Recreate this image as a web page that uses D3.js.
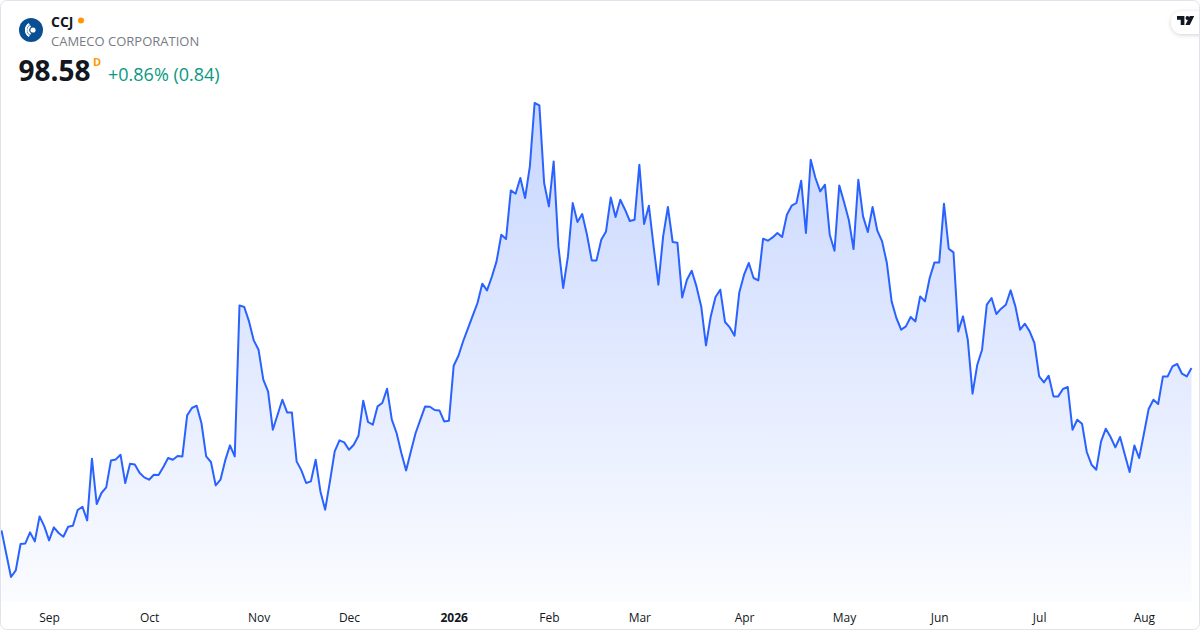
<!DOCTYPE html>
<html>
<head>
<meta charset="utf-8">
<script src="https://cdn.jsdelivr.net/npm/d3@7"></script>
<style>
  html, body { margin: 0; padding: 0; background: #ffffff; }
  #chart { width: 1200px; height: 630px; }
  text { font-family: "Open Sans", "Noto Sans", sans-serif; }
</style>
</head>
<body>
<div id="chart"></div>
<script>
// Header texts
const symbol = "CCJ";
const companyName = "CAMECO CORPORATION";
const lastPrice = "98.58";
const priceChange = "+0.86% (0.84)";

// Trading calendar: first session and NYSE holidays in the range
const firstSession = "2025-08-18";
const holidays = [
  "2025-09-01", "2025-11-27", "2025-12-25", "2026-01-01", "2026-01-19",
  "2026-02-16", "2026-04-03", "2026-05-25", "2026-06-19", "2026-07-03",
];

// Labels shown at the first session of each month
const tickLabels = ["Sep", "Oct", "Nov", "Dec", "2026", "Feb", "Mar", "Apr", "May", "Jun", "Jul", "Aug"];

// Daily closes
const closes = [
  82.34, 80.01, 77.68, 78.34, 80.98, 81.04, 82.14, 81.24, 83.74, 82.74,
  81.34, 82.64, 82.08, 81.71, 82.71, 82.81, 84.38, 84.71, 83.34, 89.51,
  84.98, 86.08, 86.64, 89.34, 89.44, 89.91, 87.08, 89.01, 88.94, 88.11,
  87.64, 87.41,
  87.91, 87.88, 88.68, 89.58, 89.41, 89.78, 89.74, 93.84, 94.58, 94.81,
  93.08, 89.74, 89.18, 86.84, 87.41, 89.34, 90.84, 89.74, 104.84, 104.68,
  103.24, 101.34, 100.41, 97.41, 96.24, 92.41, 93.91, 95.41, 94.14, 94.14,
  89.24,
  88.34, 87.08, 87.24, 89.41, 86.24, 84.41, 87.24, 90.24, 91.34, 91.14,
  90.41, 90.91, 91.81, 95.31, 93.18, 92.91, 94.74, 95.08, 96.51, 93.41,
  92.08, 90.08, 88.34, 90.24, 92.08, 93.41, 94.74, 94.71, 94.38, 94.34,
  93.24, 93.31, 98.81,
  99.81, 101.28, 102.54, 103.81, 105.08, 107.01, 106.34, 107.68, 109.24, 111.91,
  111.48, 116.34, 116.01, 117.58, 115.58, 118.74, 125.08, 124.84, 117.08, 114.74,
  119.24, 110.74, 106.58, 109.74, 115.08, 113.18, 113.98, 111.91, 109.34, 109.34,
  111.41,
  112.24, 115.64, 113.68, 115.41, 114.41, 113.28, 113.41, 118.91, 112.98, 114.81,
  110.74, 106.91, 111.74, 114.68, 111.18, 111.11, 105.64, 107.41, 108.31, 106.74,
  104.74, 100.84, 103.74, 105.68, 106.41, 103.18, 102.64, 101.81, 106.14, 107.91,
  109.08,
  107.58, 107.34, 111.51, 111.31, 111.64, 112.08, 111.68, 113.91, 114.81, 115.08,
  117.31, 112.08, 119.41, 117.58, 116.24, 116.91, 111.91, 110.31, 116.84, 115.18,
  113.41, 110.48, 117.41, 113.74, 112.18, 114.68, 112.31, 111.24, 109.08, 105.24,
  103.58, 102.41,
  102.74, 103.68, 103.24, 105.74, 105.24, 107.58, 109.14, 109.14, 115.01, 110.51,
  110.14, 102.24, 103.74, 101.41, 96.01, 98.91, 100.41, 104.91, 105.58, 103.98,
  104.51, 104.91, 106.34, 104.74, 102.41, 103.01, 102.24, 101.08, 97.74, 97.14,
  97.81,
  95.74, 95.74, 96.48, 96.68, 92.41, 93.41, 93.01, 90.18, 88.91, 88.41,
  91.24, 92.51, 91.68, 90.64, 91.68, 89.91, 88.18, 90.84, 89.58, 92.01,
  94.48, 95.41, 94.98, 97.74, 97.74, 98.74, 98.98, 98.01, 97.74, 98.58,
];

// Build the session dates (weekdays minus holidays)
function tradingDays(start, count) {
  const parse = d3.utcParse("%Y-%m-%d");
  const fmt = d3.utcFormat("%Y-%m-%d");
  const out = [];
  let day = parse(start);
  while (out.length < count) {
    const wd = day.getUTCDay();
    if (wd !== 0 && wd !== 6 && !holidays.includes(fmt(day))) out.push(day);
    day = d3.utcDay.offset(day, 1);
  }
  return out;
}

const dates = tradingDays(firstSession, closes.length);
const data = dates.map((date, i) => ({ index: i, date, close: closes[i] }));
const monthStarts = data
  .filter((d, i) => i > 0 && d.date.getUTCMonth() !== data[i - 1].date.getUTCMonth())
  .map((d) => d.index);

const width = 1200;
const height = 630;
const pane = { left: 1.5, right: 1191.5, top: 103, bottom: 577, floor: 601.5 };

const svg = d3
  .select("#chart")
  .append("svg")
  .attr("width", width)
  .attr("height", height);

const defs = svg.append("defs");

// Area gradient
const grad = defs
  .append("linearGradient")
  .attr("id", "areaFill")
  .attr("gradientUnits", "userSpaceOnUse")
  .attr("x1", 0).attr("x2", 0)
  .attr("y1", pane.top).attr("y2", pane.floor);
grad.append("stop").attr("offset", "0%").attr("stop-color", "#2962ff").attr("stop-opacity", 0.26);
grad.append("stop").attr("offset", "100%").attr("stop-color", "#2962ff").attr("stop-opacity", 0.02);

const shadow = defs.append("filter").attr("id", "badgeShadow")
  .attr("x", "-50%").attr("y", "-50%").attr("width", "200%").attr("height", "200%");
shadow.append("feDropShadow")
  .attr("dx", 0).attr("dy", 1).attr("stdDeviation", 2)
  .attr("flood-color", "#000").attr("flood-opacity", 0.18);

defs.append("clipPath").attr("id", "frameClip")
  .append("rect").attr("width", width).attr("height", height).attr("rx", 6);

// Scales
const x = d3.scaleLinear().domain([0, data.length - 1]).range([pane.left, pane.right]);
const y = d3.scaleLinear().domain(d3.extent(data, (d) => d.close)).range([pane.bottom, pane.top]);

// Area + line
svg.append("path")
  .datum(data)
  .attr("fill", "url(#areaFill)")
  .attr("d", d3.area().x((d) => x(d.index)).y0(pane.floor).y1((d) => y(d.close)));

svg.append("path")
  .datum(data)
  .attr("fill", "none")
  .attr("stroke", "#2962ff")
  .attr("stroke-width", 2)
  .attr("stroke-linejoin", "round")
  .attr("d", d3.line().x((d) => x(d.index)).y((d) => y(d.close)));

// Time axis
const xAxis = svg.append("g")
  .attr("transform", `translate(0,${pane.floor})`)
  .call(
    d3.axisBottom(x)
      .tickValues(monthStarts)
      .tickFormat((d, i) => tickLabels[i])
      .tickSize(0)
      .tickPadding(11.5)
  );
xAxis.select(".domain").remove();
xAxis.selectAll("text")
  .attr("font-family", '"Open Sans", "Noto Sans", sans-serif')
  .attr("font-size", "12px")
  .attr("fill", "#131722")
  .attr("font-weight", (d, i) => (/^\d{4}$/.test(tickLabels[i]) ? "700" : "400"));

// Header: logo, symbol, name, price
const logo = svg.append("g").attr("transform", "translate(31,30)");
logo.append("circle").attr("r", 12).attr("fill", "#0b4f93");
logo.append("circle").attr("cx", 2).attr("r", 2.6).attr("fill", "#ffffff");
[4.8, 7.2].forEach((r) => {
  logo.append("path")
    .attr("d", d3.arc()({ innerRadius: r - 0.8, outerRadius: r + 0.8, startAngle: -2.6, endAngle: -0.55 }))
    .attr("transform", "translate(2,0)")
    .attr("fill", "#ffffff");
  logo.append("path")
    .attr("d", d3.arc()({ innerRadius: r - 0.8, outerRadius: r + 0.8, startAngle: 3.7, endAngle: 5.7 }))
    .attr("transform", "translate(2,0)")
    .attr("fill", "#ffffff");
});

svg.append("text")
  .attr("x", 51).attr("y", 26.5)
  .attr("font-size", "14px").attr("font-weight", "700").attr("fill", "#131722")
  .text(symbol);
svg.append("circle").attr("cx", 81).attr("cy", 20.5).attr("r", 3).attr("fill", "#ff9800");

svg.append("text")
  .attr("x", 51).attr("y", 45.5)
  .attr("font-size", "13px").attr("fill", "#787b86")
  .text(companyName);

svg.append("text")
  .attr("x", 18.5).attr("y", 81)
  .attr("font-size", "28px").attr("font-weight", "700").attr("fill", "#131722")
  .text(lastPrice);
svg.append("text")
  .attr("x", 93).attr("y", 65.5)
  .attr("font-size", "11px").attr("font-weight", "700").attr("fill", "#ff9800")
  .text("D");
svg.append("text")
  .attr("x", 108).attr("y", 81)
  .attr("font-size", "18px").attr("fill", "#089981")
  .text(priceChange);

// TradingView badge (top right, cut by the frame)
const badge = svg.append("g").attr("clip-path", "url(#frameClip)");
badge.append("rect")
  .attr("x", 1171).attr("y", 11).attr("width", 44).attr("height", 23).attr("rx", 11.5)
  .attr("fill", "#ffffff").attr("filter", "url(#badgeShadow)");
badge.append("path")
  .attr("d", "M1177,16h7.4v9h-3.7v-5.2h-3.7z M1189.8,16h4.4l-4.4,9h-4.4z")
  .attr("fill", "#131722");
badge.append("circle").attr("cx", 1187.4).attr("cy", 18).attr("r", 1.9).attr("fill", "#131722");

// Frame
svg.append("rect")
  .attr("x", 0.5).attr("y", 0.5).attr("width", width - 1).attr("height", height - 1).attr("rx", 6)
  .attr("fill", "none").attr("stroke", "#e0e3eb");
</script>
</body>
</html>
